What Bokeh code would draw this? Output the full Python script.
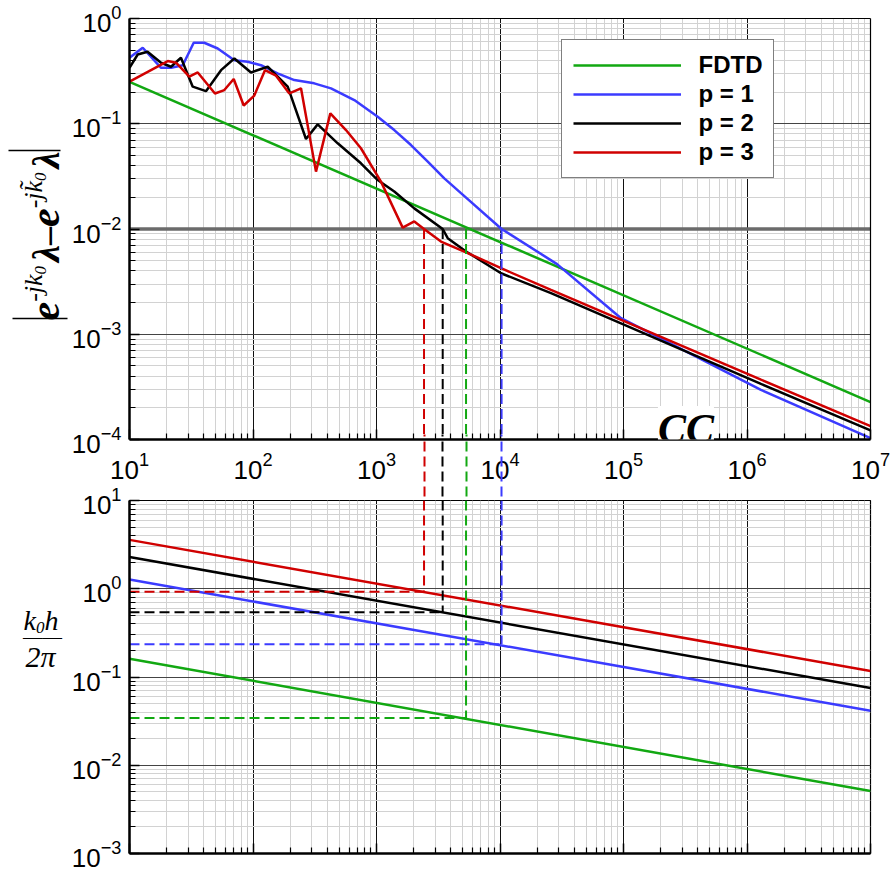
from bokeh.plotting import figure
from bokeh.models import FixedTicker, Label, Legend, LegendItem, Range1d, CustomJSTickFormatter, LogAxis
from bokeh.layouts import column, row
from bokeh.embed import file_html
from bokeh.resources import INLINE

# ---------------- data ----------------
cc_fdtd = [10, 1e7]
err_fdtd = [0.25, 2.27e-4]

cc_p1 = [10, 12.8, 18.0, 21.7, 27.0, 33.1, 40.3, 51.8, 70.6, 90.6, 116, 158, 216, 313, 428,
         661, 1023, 1393, 1902, 2600, 3540, 4830, 10300, 28970, 95500, 1.297e6, 1e7]
err_p1 = [0.424, 0.527, 0.340, 0.340, 0.360, 0.588, 0.588, 0.519, 0.402, 0.388, 0.360, 0.301,
          0.260, 0.242, 0.217, 0.168, 0.1167, 0.0871, 0.0628, 0.0437, 0.0303, 0.0219, 0.0100,
          0.00464, 0.00142, 2.96e-4, 1.03e-4]

cc_p2 = [10, 11.65, 14.0, 18.0, 21.7, 26.1, 32.5, 41.6, 55.1, 70.6, 96.3, 131.5, 191, 268.5,
         334, 485, 748, 1023, 1393, 2023, 3436, 3773, 5309, 10190, 25880, 1.297e6, 1e7]
err_p2 = [0.340, 0.455, 0.483, 0.380, 0.348, 0.424, 0.225, 0.204, 0.323, 0.417, 0.307, 0.348,
          0.225, 0.0716, 0.0987, 0.0652, 0.0421, 0.0292, 0.0227, 0.0157, 0.0100, 0.00818,
          0.00612, 0.0038, 0.00246, 3.37e-4, 1.22e-4]

cc_p3 = [10, 20.4, 23.8, 30.5, 35.7, 49.2, 58.6, 69.8, 84.1, 102.4, 125, 153.6, 196.7, 244.7,
         323.6, 422.7, 566, 748, 1087, 1630, 2023, 2426, 3327, 5309, 10190, 25880, 1.297e6, 1e7]
err_p3 = [0.251, 0.394, 0.380, 0.280, 0.307, 0.194, 0.209, 0.266, 0.149, 0.185, 0.323, 0.286,
          0.194, 0.217, 0.0351, 0.1255, 0.0871, 0.0585, 0.0282, 0.0103, 0.0118, 0.0100, 0.0076,
          0.0060, 0.00424, 0.00264, 3.70e-4, 1.34e-4]

kh_cc = [10, 1e7]
kh_fdtd = [0.161, 0.0051]
kh_p1 = [1.27, 0.0415]
kh_p2 = [2.29, 0.075]
kh_p3 = [3.58, 0.117]

threshold = 1e-2
cross_cc = [5309, 10300, 3436, 2426]      # FDTD, p=1, p=2, p=3
cross_kh = [0.0344, 0.235, 0.542, 0.925]

labels = ["FDTD", "p = 1", "p = 2", "p = 3"]
x_exps = [1, 2, 3, 4, 5, 6, 7]
top_y_exps = [-4, -3, -2, -1, 0]
bot_y_exps = [-3, -2, -1, 0, 1]

# ---------------- styles / layout ----------------
GREEN, BLUE, BLACK, RED = "#12a812", "#3b3bff", "#000000", "#d00000"
colors = [GREEN, BLUE, BLACK, RED]
SANS = "Liberation Sans"
SERIF = "Liberation Serif"
DASH = "10 5"
TITLE_W = 68
FRAME_W = 741
LEFT, RIGHT = 60, 23
TOP_FRAME_H, TOP_B, TOP_T = 421, 47, 18
BOT_FRAME_H, BOT_T, BOT_B = 353, 14, 19
TOTAL_H = TOP_T + TOP_FRAME_H + TOP_B + BOT_T + BOT_FRAME_H + BOT_B
BASE_SHIFT = 0.3   # text renders this fraction of its size below the requested baseline
DY = TOP_T - 20    # vertical shift of the title strip relative to the reference

blank = CustomJSTickFormatter(code="return ''")


def log_ticker(exps):
    major = [10.0 ** e for e in exps]
    minor = [m * 10.0 ** e for e in exps[:-1] for m in range(2, 10)]
    return FixedTicker(ticks=major, minor_ticks=minor)


def style(p, xexps, yexps):
    xt, yt = log_ticker(xexps), log_ticker(yexps)
    p.xaxis.ticker = xt
    p.yaxis.ticker = yt
    p.xgrid.ticker = xt
    p.ygrid.ticker = yt
    for ax in p.axis:
        ax.axis_line_width = 2.5
        ax.axis_line_color = "black"
        ax.major_tick_in = 10
        ax.major_tick_out = 0
        ax.minor_tick_in = 6
        ax.minor_tick_out = 0
        ax.major_tick_line_width = 1.5
        ax.minor_tick_line_width = 1.2
        ax.major_tick_line_color = "black"
        ax.minor_tick_line_color = "black"
        ax.major_label_text_font = SANS
        ax.major_label_text_font_size = "26px"
        ax.major_label_text_color = "black"
        ax.major_label_standoff = 8
    p.xgrid.grid_line_color = "#111111"
    p.ygrid.grid_line_color = "#444444"
    p.xgrid.minor_grid_line_color = "#d2d2d2"
    p.ygrid.minor_grid_line_color = "#d2d2d2"
    p.background_fill_color = "white"
    p.border_fill_color = "white"


def edge_axis(ticker, width=1.2):
    return LogAxis(ticker=ticker, formatter=blank, axis_line_width=width, axis_line_color="black",
                   major_tick_in=0, major_tick_out=0, minor_tick_in=0, minor_tick_out=0,
                   major_label_text_font_size="1px", major_label_standoff=0)


def dash_axis(xa, xb, ca, cb, tin, tout):
    return LogAxis(ticker=FixedTicker(ticks=[xa], minor_ticks=[xb]), formatter=blank,
                   axis_line_color=None, major_label_text_font_size="1px", major_label_standoff=0,
                   major_tick_in=tin, major_tick_out=tout, minor_tick_in=tin, minor_tick_out=tout,
                   major_tick_line_color=ca, minor_tick_line_color=cb,
                   major_tick_line_width=2, minor_tick_line_width=2,
                   major_tick_line_dash=DASH, minor_tick_line_dash=DASH)


# ---------------- top panel ----------------
top = figure(x_axis_type="log", y_axis_type="log",
             x_range=Range1d(10, 1e7), y_range=Range1d(1e-4, 1),
             frame_width=FRAME_W, frame_height=TOP_FRAME_H,
             min_border_left=LEFT, min_border_right=RIGHT, min_border_top=TOP_T, min_border_bottom=TOP_B,
             output_backend="svg", toolbar_location=None)
style(top, x_exps, top_y_exps)
top.outline_line_color = None
top.xaxis.major_label_standoff = 12
top.add_layout(edge_axis(log_ticker(x_exps)), "above")
top.add_layout(edge_axis(log_ticker(top_y_exps)), "right")
# dashed continuation below the top frame (through the tick-label strip)
top.add_layout(dash_axis(cross_cc[0], cross_cc[1], GREEN, BLUE, TOP_B, 0), "below")
top.add_layout(dash_axis(cross_cc[2], cross_cc[3], BLACK, RED, TOP_B, 0), "below")

top.line(x=kh_cc, y=[threshold, threshold], line_color="#6b6b6b", line_width=3.5)

r_g = top.line(cc_fdtd, err_fdtd, line_color=GREEN, line_width=2.5)
r_b = top.line(cc_p1, err_p1, line_color=BLUE, line_width=2.5)
r_k = top.line(cc_p2, err_p2, line_color=BLACK, line_width=2.5)
r_r = top.line(cc_p3, err_p3, line_color=RED, line_width=2.5)

top.segment(x0=cross_cc, y0=[threshold] * 4, x1=cross_cc, y1=[1e-4] * 4,
            line_color=colors, line_width=2, line_dash=DASH)

legend = Legend(items=[LegendItem(label=l, renderers=[r]) for l, r in zip(labels, [r_g, r_b, r_k, r_r])],
                location=(431.5, 261), orientation="vertical",
                glyph_width=108, glyph_height=28, label_height=28, label_standoff=18,
                spacing=1, padding=11, margin=0,
                label_text_font=SANS, label_text_font_style="bold", label_text_font_size="24px",
                label_text_color="black",
                border_line_color="black", border_line_width=1.2,
                background_fill_color="white", background_fill_alpha=1.0)
top.add_layout(legend)

# x-axis title "CC" sitting on the axis line
top.add_layout(Label(x=1.9e5, y=1e-4, y_offset=BASE_SHIFT * 42 - 2, text="CC", text_font=SERIF,
                     text_font_size="42px", text_font_style="bold italic", text_color="black",
                     text_align="left", text_baseline="alphabetic", background_fill_color="white"))

# ---------------- bottom panel ----------------
bot = figure(x_axis_type="log", y_axis_type="log",
             x_range=top.x_range, y_range=Range1d(1e-3, 10),
             frame_width=FRAME_W, frame_height=BOT_FRAME_H,
             min_border_left=LEFT, min_border_right=RIGHT, min_border_top=BOT_T, min_border_bottom=BOT_B,
             output_backend="svg", toolbar_location=None)
style(bot, x_exps, bot_y_exps)
bot.xaxis.formatter = blank
bot.xaxis.major_label_standoff = 0
bot.xaxis.major_label_text_font_size = "1px"
bot.outline_line_color = "black"
bot.outline_line_width = 1.2
bot.add_layout(dash_axis(cross_cc[0], cross_cc[1], GREEN, BLUE, 0, BOT_T), "above")
bot.add_layout(dash_axis(cross_cc[2], cross_cc[3], BLACK, RED, BOT_T, 0), "above")

bot.line(kh_cc, kh_fdtd, line_color=GREEN, line_width=2.5)
bot.line(kh_cc, kh_p1, line_color=BLUE, line_width=2.5)
bot.line(kh_cc, kh_p2, line_color=BLACK, line_width=2.5)
bot.line(kh_cc, kh_p3, line_color=RED, line_width=2.5)

bot.segment(x0=[kh_cc[0]] * 4, y0=cross_kh, x1=cross_cc, y1=cross_kh,
            line_color=colors, line_width=2, line_dash=DASH)
bot.segment(x0=cross_cc, y0=[10] * 4, x1=cross_cc, y1=cross_kh,
            line_color=colors, line_width=2, line_dash=DASH)

# ---------------- axis titles (own strip, page pixel coordinates) ----------------
ttl = figure(width=TITLE_W, height=TOTAL_H, x_range=Range1d(0, TITLE_W), y_range=Range1d(TOTAL_H, 0),
             x_axis_location=None, y_axis_location=None, min_border=0,
             output_backend="svg", toolbar_location=None)
ttl.outline_line_color = None
ttl.grid.visible = False
ttl.background_fill_color = "white"
ttl.border_fill_color = "white"


def piece(x, y, text, size, fstyle, rotated=False, align="left"):
    y = y + DY
    if rotated:
        x = x - BASE_SHIFT * size
    else:
        y = y - BASE_SHIFT * size
    ttl.add_layout(Label(x=x, y=y, text=text, text_font=SERIF, text_font_size=f"{size}px",
                         text_font_style=fstyle, text_color="black",
                         angle=1.5708 if rotated else 0.0,
                         text_align=align, text_baseline="alphabetic"))


# |e^{-jk0 λ} - e^{-j k~0 λ}|  (rotated, reads bottom-to-top; anchored at each piece's upper end)
BASE = 57
ypieces = [("e", 42, "bold italic", 0, 0.444),
           ("-jk", 26, "italic", -16, 1.055),
           ("0", 17, "italic", -12, 0.5),
           ("\u03bb", 38, "bold italic", 0, 0.55),
           ("\u2013", 36, "bold", 0, 0.5),
           ("e", 42, "bold italic", 0, 0.444),
           ("-j", 26, "italic", -16, 0.611),
           ("k\u0303", 26, "italic", -16, 0.444),
           ("0", 17, "italic", -12, 0.5),
           ("\u03bb", 38, "bold italic", 0, 0.55)]
pos = 322.0
for txt, sz, st, shift, adv in ypieces:
    pos -= adv * sz
    piece(BASE + shift, pos, txt, sz, st, rotated=True, align="right")
# absolute-value bars (the rotated "|" strokes)
ttl.segment(x0=[12, 8], y0=[320 + DY, 152 + DY], x1=[67, 60], y1=[320 + DY, 152 + DY],
            line_color="black", line_width=1.6)

# k0 h / 2π
piece(23, 630, "k", 28, "italic")
piece(35.5, 634, "0", 17, "italic")
piece(44, 630, "h", 28, "italic")
piece(22.5, 643.5, "\u2014\u2014", 19.5, "normal")
piece(25, 667, "2\u03c0", 30, "italic")

layout = row(ttl, column(top, bot))
open("out.html", "w").write(file_html(layout, INLINE))
